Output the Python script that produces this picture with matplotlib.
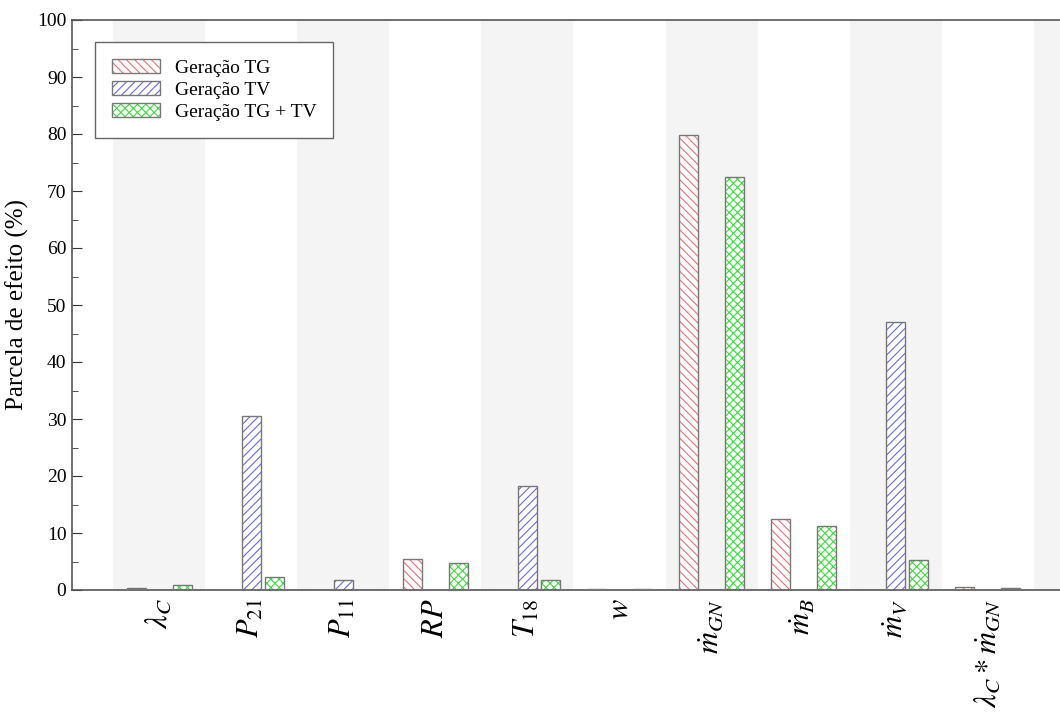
import matplotlib
matplotlib.use("Agg")
import matplotlib.pyplot as plt
import numpy as np

plt.rcParams['font.family'] = ['Liberation Serif', 'DejaVu Serif']
plt.rcParams['mathtext.fontset'] = 'stix'
plt.rcParams['hatch.linewidth'] = 0.8

# parcela de efeito de cada fator (%)
fatores = [r'$\lambda_C$', r'$P_{21}$', r'$P_{11}$', r'$RP$', r'$T_{18}$', r'$w$',
           r'$\dot{m}_{GN}$', r'$\dot{m}_B$', r'$\dot{m}_V$', r'$\lambda_C * \dot{m}_{GN}$']
geracao_tg = [0.3, 0, 0, 5.5, 0, 0.2, 79.8, 12.5, 0, 0.6]
geracao_tv = [0, 30.5, 1.7, 0, 18.2, 0, 0, 0, 47.0, 0]
geracao_tg_tv = [0.8, 2.3, 0, 4.7, 1.8, 0.2, 72.4, 11.3, 5.3, 0.4]

series = [
    ('Geração TG', geracao_tg, '\\\\\\\\', '#ee7070', -0.25),
    ('Geração TV', geracao_tv, '////', '#6a6ae0', 0.0),
    ('Geração TG + TV', geracao_tg_tv, 'xxxx', '#3fdc3f', 0.25),
]

fig = plt.figure(figsize=(10.6, 7.2), dpi=100)
# eixo passa da borda direita da figura
ax = fig.add_axes([72 / 1060, 130 / 720, 1049 / 1060, 570 / 720])

x = np.arange(len(fatores))

# faixas cinza alternadas
for i in range(0, len(fatores) + 2, 2):
    ax.axvspan(i - 0.5, i + 0.5, color='#f4f4f4', zorder=0, lw=0)

handles = []
for nome, vals, hatch, cor, off in series:
    h = ax.bar(x + off, vals, 0.2, facecolor='white', edgecolor=cor, hatch=hatch,
               lw=0, zorder=2)
    o = ax.bar(x + off, vals, 0.2, fill=False, edgecolor='#777777', lw=1.0, zorder=3)
    handles.append((h, o))

ax.set_xlim(-0.95, 10.45)
ax.set_ylim(0, 100)
ax.set_yticks(np.arange(0, 101, 10))
ax.set_yticks(np.arange(0, 101, 5), minor=True)
ax.tick_params(axis='y', which='major', direction='in', length=7, pad=4,
               labelsize=14, colors='#333333')
ax.tick_params(axis='y', which='minor', direction='in', length=4.5, color='#333333')
ax.set_xticks(x)
ax.set_xticklabels(fatores, rotation=90, fontsize=22)
ax.tick_params(axis='x', length=0, pad=6)
for lbl in ax.get_yticklabels():
    lbl.set_color('black')

for s in ['left', 'bottom', 'top']:
    ax.spines[s].set_color('#555555')
    ax.spines[s].set_linewidth(1.2)
ax.spines['right'].set_visible(False)

ax.set_ylabel('Parcela de efeito (%)', fontsize=18, labelpad=6)

leg = ax.legend(handles, [s[0] for s in series], loc='upper left',
                bbox_to_anchor=(0.022, 0.961), borderaxespad=0, fontsize=14,
                handlelength=2.5, handleheight=0.75, handletextpad=0.75,
                labelspacing=0.22, borderpad=0.85, fancybox=False, framealpha=1)
leg.get_frame().set_edgecolor('#666666')
leg.get_frame().set_linewidth(1.0)

fig.savefig('out.png', dpi=100)
